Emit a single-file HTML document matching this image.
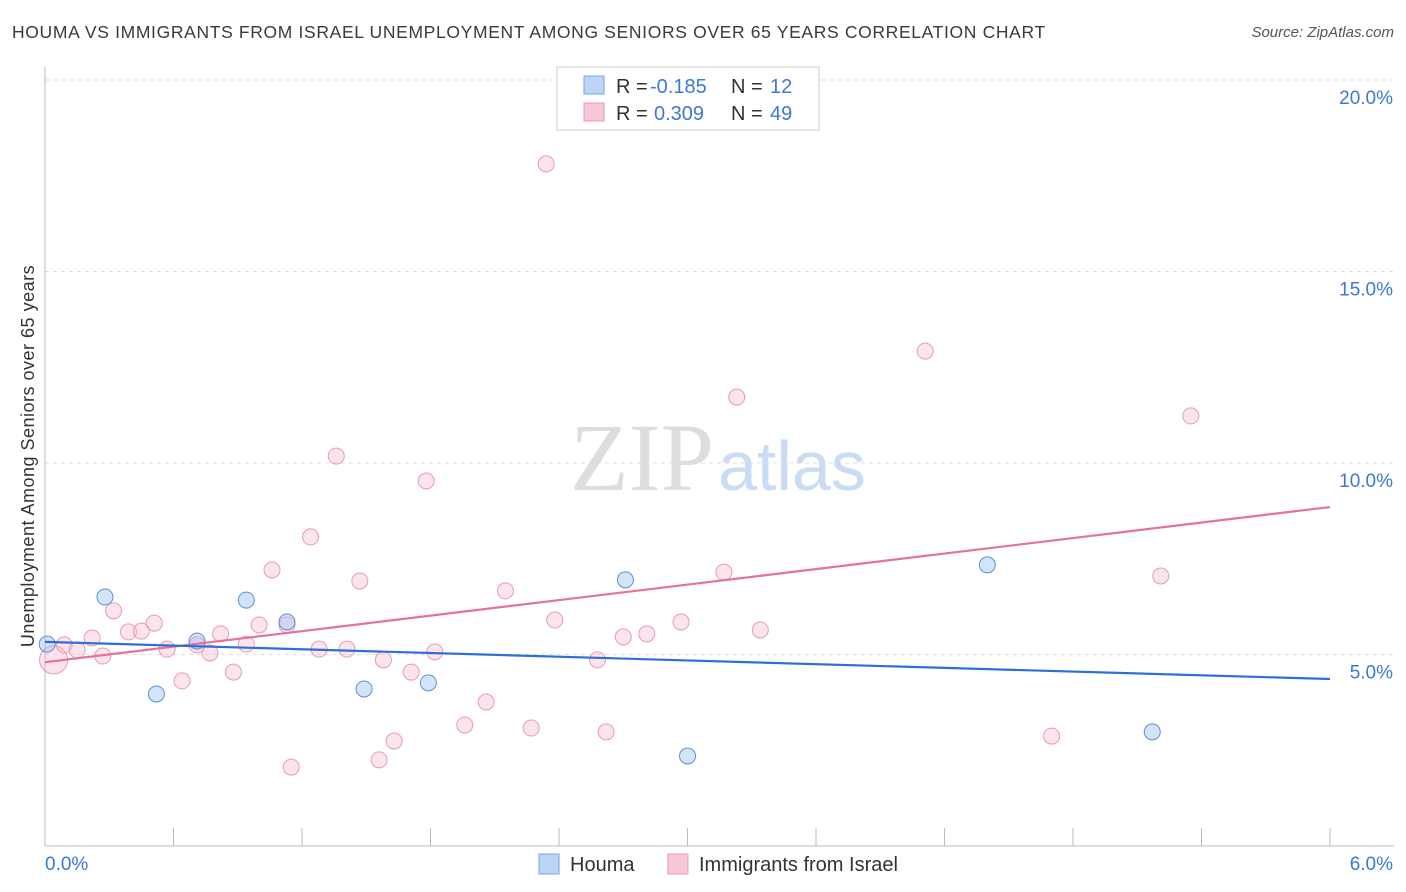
<!DOCTYPE html>
<html><head><meta charset="utf-8">
<style>
body{margin:0;background:#fff;font-family:"Liberation Sans",sans-serif;}
.t{position:absolute;}
</style></head>
<body>
<div style="position:relative;width:1406px;height:892px;overflow:hidden">
<div class="t" style="left:12px;top:22px;font-size:17.5px;color:#3a3a3a;letter-spacing:0.65px">HOUMA VS IMMIGRANTS FROM ISRAEL UNEMPLOYMENT AMONG SENIORS OVER 65 YEARS CORRELATION CHART</div>
<div class="t" style="right:12px;top:24px;font-size:15px;color:#555;font-style:italic">Source: ZipAtlas.com</div>
<svg id="s" width="1406" height="892" style="position:absolute;left:0;top:0"></svg>
</div>
<script>
const houmaX=[0.01,0.28,0.52,0.71,0.94,1.13,1.49,1.79,2.71,3.00,4.40,5.17];
const houmaY=[5.27,6.50,3.97,5.35,6.42,5.85,4.10,4.26,6.95,2.35,7.34,2.98];
const israelX=[0.04,0.09,0.15,0.22,0.27,0.32,0.39,0.45,0.51,0.57,0.64,0.71,0.77,0.82,0.88,0.94,1.00,1.06,1.13,1.15,1.24,1.28,1.36,1.41,1.47,1.56,1.58,1.63,1.71,1.78,1.82,1.96,2.06,2.15,2.27,2.34,2.38,2.58,2.62,2.70,2.81,2.97,3.17,3.23,3.34,4.11,4.70,5.21,5.35];
const israelY=[4.86,5.25,5.12,5.43,4.96,6.14,5.59,5.61,5.82,5.14,4.31,5.25,5.04,5.54,4.54,5.27,5.77,7.21,5.77,2.06,8.07,5.14,10.18,5.14,6.92,2.25,4.86,2.74,4.54,9.53,5.07,3.16,3.76,6.66,3.08,17.81,5.90,4.86,2.98,5.46,5.54,5.85,7.15,11.72,5.64,12.92,2.87,7.05,11.23];
const houmaTrend=[5.33,4.36];
const israelTrend=[4.80,8.85];
const yTicks=[5,10,15,20];
const xTickLabels=["0.0%","6.0%"];
const X=v=>45+v/6*1285, Y=v=>846-v*38.3;
const s=document.getElementById('s');const NS='http://www.w3.org/2000/svg';
function el(t,a,name,txt){const e=document.createElementNS(NS,t);for(const k in a)e.setAttribute(k,a[k]);


if(txt!==undefined)e.textContent=txt;s.appendChild(e);return e;}
yTicks.forEach(v=>{el('line',{x1:45,x2:1394,y1:Y(v),y2:Y(v),stroke:'#ddd','stroke-dasharray':'4,4'},'gridline');
el('text',{x:1393,y:Y(v)+24,'text-anchor':'end','font-size':19,fill:'#3d78d8','font-family':'Liberation Sans'},'y-tick-label',v.toFixed(1)+'%');});
el('line',{x1:45,x2:45,y1:67,y2:846,stroke:'#bbb'},'y-axis-line');
el('line',{x1:45,x2:1394,y1:846,y2:846,stroke:'#bbb'},'x-axis-line');
for(let i=0;i<=10;i++)el('line',{x1:X(i*0.6),x2:X(i*0.6),y1:828,y2:846,stroke:'#bbb'},'x-tick');
el('text',{x:45,y:870,'font-size':19,fill:'#3d78d8','font-family':'Liberation Sans'},'x-tick-label',xTickLabels[0]);
el('text',{x:1393,y:870,'text-anchor':'end','font-size':19,fill:'#3d78d8','font-family':'Liberation Sans'},'x-tick-label',xTickLabels[1]);
el('text',{x:34,y:456,transform:'rotate(-90 34 456)','text-anchor':'middle','font-size':18,fill:'#333','font-family':'Liberation Sans','letter-spacing':'0.5'},'y-axis-title','Unemployment Among Seniors over 65 years');
el('text',{x:714,y:490,'text-anchor':'end','font-size':96,fill:'#ddd','font-family':'Liberation Serif'},'watermark-zip','ZIP');
el('text',{x:718,y:490,'font-size':70,fill:'#c9dcf3','font-family':'Liberation Sans'},'watermark-atlas','atlas');
israelX.forEach((x,i)=>el('circle',{cx:X(x),cy:Y(israelY[i]),r:i==0?14:8,fill:'rgba(246,178,200,0.35)',stroke:'#e89ab4','stroke-width':1},'israel-point'));
houmaX.forEach((x,i)=>el('circle',{cx:X(x),cy:Y(houmaY[i]),r:8,fill:'rgba(160,195,240,0.45)',stroke:'#5b8fd8','stroke-width':1},'houma-point'));
el('line',{x1:X(0),x2:X(6),y1:Y(israelTrend[0]),y2:Y(israelTrend[1]),stroke:'#e8719a','stroke-width':2.2},'israel-trendline');
el('line',{x1:X(0),x2:X(6),y1:Y(houmaTrend[0]),y2:Y(houmaTrend[1]),stroke:'#2e6fd6','stroke-width':2.2},'houma-trendline');
el('rect',{x:557,y:67,width:262,height:63,fill:'#fff',stroke:'#ccc'},'legend-box');
el('rect',{x:584,y:76,width:20,height:18,fill:'#bcd4f5',stroke:'#7aa5e0'},'legend-swatch-houma');
el('rect',{x:584,y:103,width:20,height:18,fill:'#f9c8d7',stroke:'#e89ab4'},'legend-swatch-israel');
const ls=[['R = ','-0.185','12',93],['R = ','0.309','49',120]];
ls.forEach(l=>{el('text',{x:616,y:l[3],'font-size':20,fill:'#333','font-family':'Liberation Sans'},'legend-r-label',l[0]);
el('text',{x:l[1][0]=='-'?650:654,y:l[3],'font-size':20,fill:'#3d78d8','font-family':'Liberation Sans'},'legend-r-value',l[1]);
el('text',{x:731,y:l[3],'font-size':20,fill:'#333','font-family':'Liberation Sans'},'legend-n-label','N =');
el('text',{x:770,y:l[3],'font-size':20,fill:'#3d78d8','font-family':'Liberation Sans'},'legend-n-value',l[2]);});
el('rect',{x:539,y:854,width:20,height:20,fill:'#bcd4f5',stroke:'#7aa5e0'},'bottom-legend-swatch-houma');
el('text',{x:570,y:871,'font-size':20,fill:'#333','font-family':'Liberation Sans'},'bottom-legend-houma','Houma');
el('rect',{x:668,y:854,width:20,height:20,fill:'#f9c8d7',stroke:'#e89ab4'},'bottom-legend-swatch-israel');
el('text',{x:699,y:871,'font-size':20,fill:'#333','font-family':'Liberation Sans'},'bottom-legend-israel','Immigrants from Israel');
</script>
</body></html>
